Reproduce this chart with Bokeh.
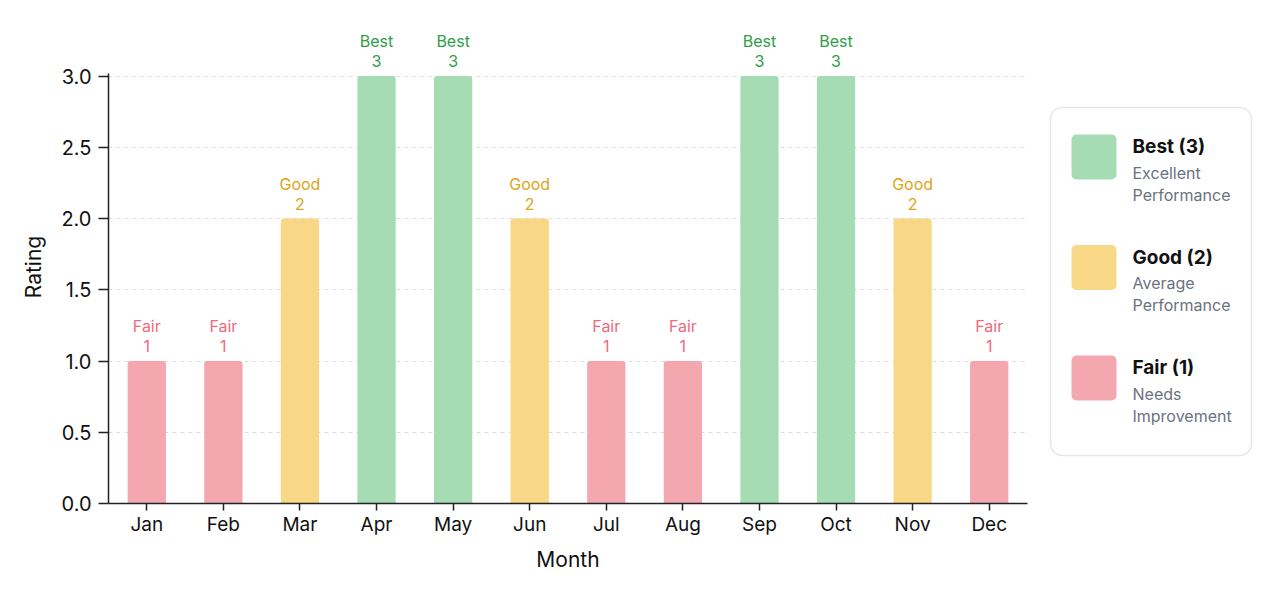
from bokeh.plotting import figure
from bokeh.models import ColumnDataSource, Range1d, FixedTicker, NumeralTickFormatter
from bokeh.layouts import row
from bokeh.core.properties import value
from bokeh.embed import file_html
from bokeh.resources import INLINE

months = ["Jan", "Feb", "Mar", "Apr", "May", "Jun",
          "Jul", "Aug", "Sep", "Oct", "Nov", "Dec"]
ratings = [1, 1, 2, 3, 3, 2, 1, 1, 3, 3, 2, 1]
y_ticks = [0, 0.5, 1, 1.5, 2, 2.5, 3]

levels = [3, 2, 1]
level_names = {3: "Best", 2: "Good", 1: "Fair"}
level_desc = {3: "Excellent\nPerformance",
              2: "Average\nPerformance",
              1: "Needs\nImprovement"}
bar_colors = {3: "#a6dcb3", 2: "#f8d886", 1: "#f4a7af"}
label_colors = {3: "#2e9e47", 2: "#dca514", 1: "#ef6a7e"}

FONT = "Inter"
H = 585
TOP, BOTTOM = 30, 503   # frame edges in pixels

source = ColumnDataSource(dict(
    month=months,
    rating=ratings,
    name=[level_names[r] for r in ratings],
    num=[str(r) for r in ratings],
    color=[bar_colors[r] for r in ratings],
    label_color=[label_colors[r] for r in ratings],
))

p = figure(x_range=months, y_range=Range1d(0, 3.32),
           width=1035, height=H,
           output_backend="svg", toolbar_location=None,
           min_border_left=108, min_border_right=8,
           min_border_top=TOP, min_border_bottom=H - BOTTOM)
p.outline_line_color = None
p.background_fill_color = "white"
p.border_fill_color = "white"

p.vbar(x="month", top="rating", width=0.5, source=source,
       fill_color="color", line_color=None, border_radius=(3, 3, 0, 0))

p.text(x="month", y="rating", text="name", source=source,
       y_offset=-35, text_align="center", text_baseline="middle",
       text_color="label_color", text_font=value(FONT), text_font_size="16px")
p.text(x="month", y="rating", text="num", source=source,
       y_offset=-15, text_align="center", text_baseline="middle",
       text_color="label_color", text_font=value(FONT), text_font_size="16px")

# axes
for ax in (p.xaxis, p.yaxis):
    ax.axis_line_color = "#222222"
    ax.axis_line_width = 1.5
    ax.major_tick_line_color = "#222222"
    ax.major_tick_line_width = 1.5
    ax.major_tick_in = 0
    ax.minor_tick_line_color = None
    ax.major_label_text_font = FONT
    ax.major_label_text_font_size = "19px"
    ax.major_label_text_color = "#111111"
    ax.axis_label_text_font = FONT
    ax.axis_label_text_font_size = "21px"
    ax.axis_label_text_font_style = "normal"
    ax.axis_label_text_color = "#111111"

p.yaxis.ticker = FixedTicker(ticks=y_ticks)
p.yaxis.formatter = NumeralTickFormatter(format="0.0")
p.yaxis.bounds = (0, 3.02)
p.yaxis.axis_label = "Rating"
p.yaxis.axis_label_standoff = 12
p.yaxis.major_label_standoff = 7
p.yaxis.major_tick_out = 10
p.yaxis.major_label_text_font_size = "20px"

p.xaxis.axis_label = "Month"
p.xaxis.axis_label_standoff = 8
p.xaxis.major_label_standoff = 2
p.xaxis.major_tick_out = 7

p.xgrid.grid_line_color = None
p.ygrid.ticker = FixedTicker(ticks=y_ticks[1:])
p.ygrid.grid_line_color = "#dcdcdc"
p.ygrid.grid_line_dash = "4 4"
p.ygrid.grid_line_width = 1

# legend panel: row() aligns its frame with the main frame, so map y to pixels
lg = figure(width=237, height=H, x_range=Range1d(0, 237), y_range=Range1d(BOTTOM, TOP),
            output_backend="svg", toolbar_location=None,
            x_axis_location=None, y_axis_location=None, min_border=0)
lg.outline_line_color = None
lg.xgrid.visible = False
lg.ygrid.visible = False
lg.border_fill_color = "white"
lg.background_fill_color = "white"

lg.quad(left=15, right=216, top=107, bottom=455, fill_color="white",
        line_color="#e6e7ea", line_width=1.5, border_radius=12)

item_top = [134 + i * 110.5 for i in range(len(levels))]
leg_src = ColumnDataSource(dict(
    top=item_top,
    bottom=[t + 45 for t in item_top],
    title_y=[t + 12 for t in item_top],
    desc_y=[t + 28 for t in item_top],
    color=[bar_colors[l] for l in levels],
    title=[f"{level_names[l]} ({l})" for l in levels],
    desc=[level_desc[l] for l in levels],
))
lg.quad(left=36, right=81, top="top", bottom="bottom", source=leg_src,
        fill_color="color", line_color=None, border_radius=5)
lg.text(x=97, y="title_y", text="title", source=leg_src,
        text_baseline="middle", text_color="#111111", text_font=value(FONT),
        text_font_size="19px", text_font_style="bold")
lg.text(x=97, y="desc_y", text="desc", source=leg_src,
        text_baseline="top", text_color="#6b7280", text_font=value(FONT),
        text_font_size="16px", text_line_height=1.1)

layout = row(p, lg)

open("out.html", "w").write(file_html(layout, INLINE))
